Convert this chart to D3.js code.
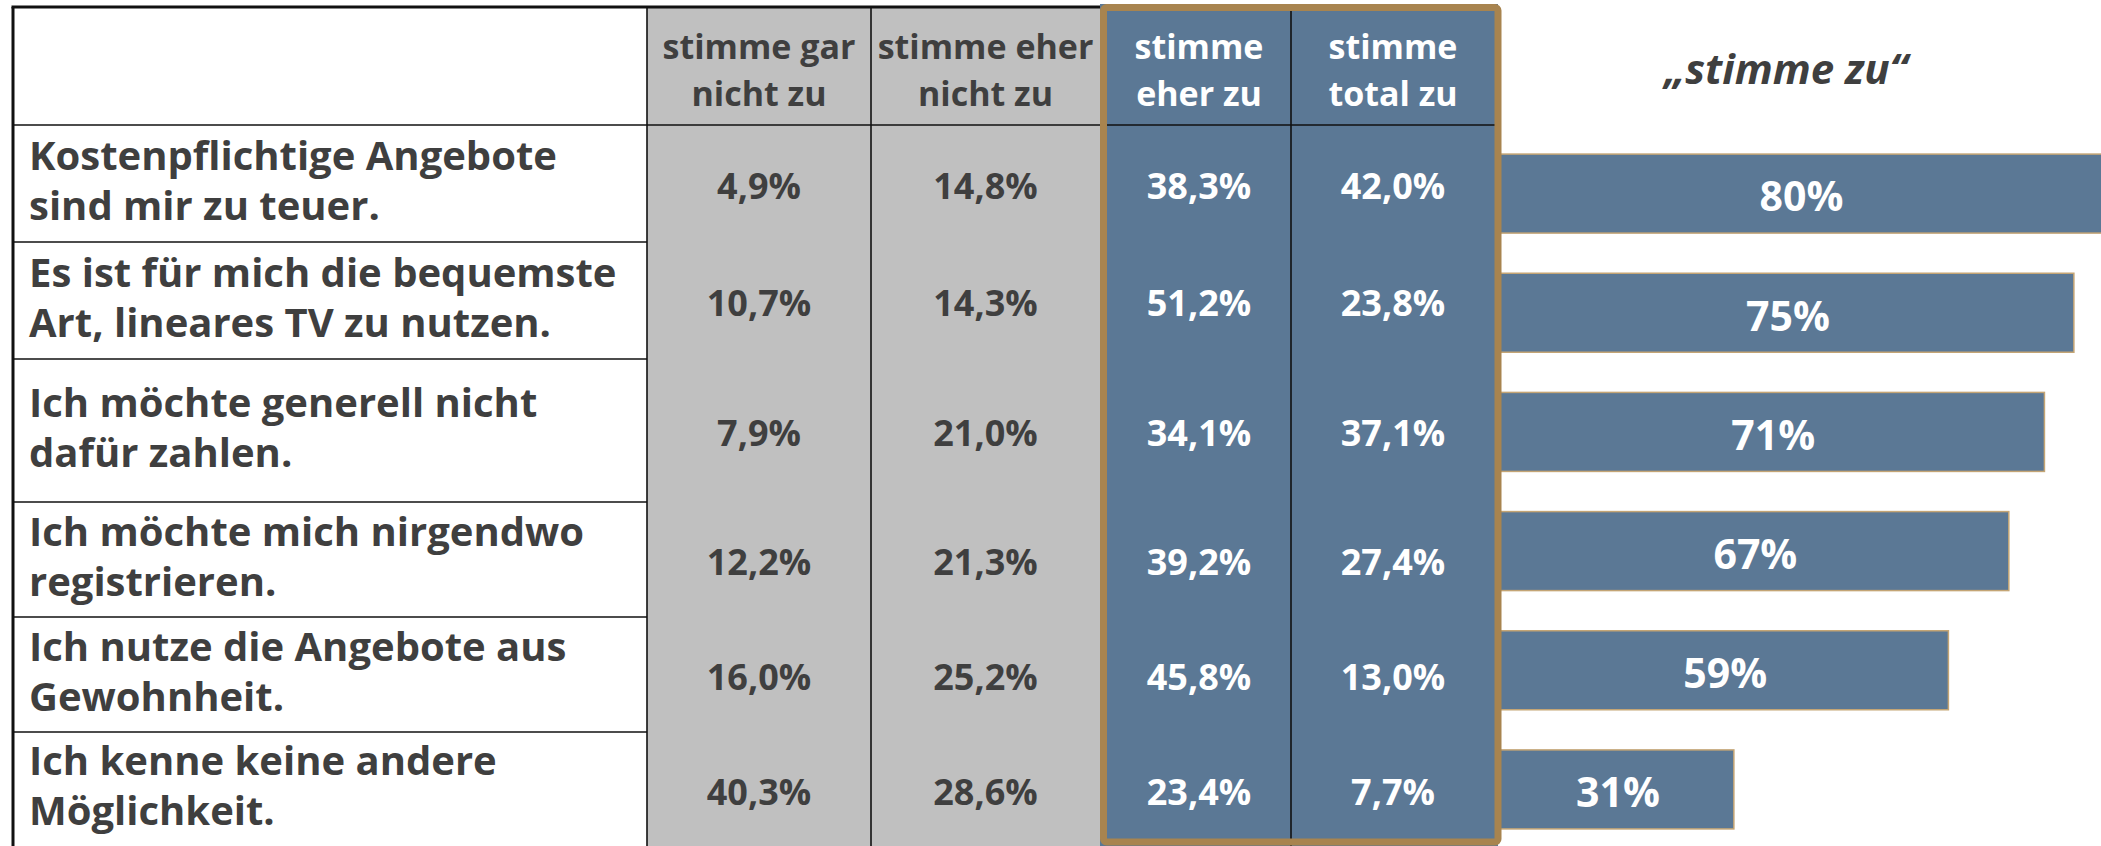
<!DOCTYPE html>
<html>
<head>
<meta charset="utf-8">
<script src="https://cdn.jsdelivr.net/npm/d3@7"></script>
<style>
  html, body { margin: 0; padding: 0; background: #ffffff; }
  svg { display: block; }
</style>
</head>
<body>
<svg id="chart" width="2101" height="846"></svg>
<script>
// ---------- DATA ----------
const categories = [
  ["Kostenpflichtige Angebote", "sind mir zu teuer."],
  ["Es ist für mich die bequemste", "Art, lineares TV zu nutzen."],
  ["Ich möchte generell nicht", "dafür zahlen."],
  ["Ich möchte mich nirgendwo", "registrieren."],
  ["Ich nutze die Angebote aus", "Gewohnheit."],
  ["Ich kenne keine andere", "Möglichkeit."]
];
const columnHeaders = [
  ["stimme gar", "nicht zu"],
  ["stimme eher", "nicht zu"],
  ["stimme", "eher zu"],
  ["stimme", "total zu"]
];
const stimmeGarNichtZu  = [4.9, 10.7, 7.9, 12.2, 16.0, 40.3];
const stimmeEherNichtZu = [14.8, 14.3, 21.0, 21.3, 25.2, 28.6];
const stimmeEherZu      = [38.3, 51.2, 34.1, 39.2, 45.8, 23.4];
const stimmeTotalZu     = [42.0, 23.8, 37.1, 27.4, 13.0, 7.7];
const barTitle = "„stimme zu“";

// ---------- LAYOUT ----------
const W = 2101, H = 846;
const rowEdges = [125, 242, 359, 502, 617, 732, 846];
const colEdges = [13, 647, 871, 1100, 1291, 1498];
const tableTop = 7;
const BLUE = "#5b7895", GRAY = "#c0c0c0", GOLD = "#a8844f", DARK = "#3f3f3f";
const FONT = "'Open Sans', 'Noto Sans', sans-serif";

const svg = d3.select("#chart");
const fmt = v => d3.format(".1f")(v).replace(".", ",") + "%";

const seriesCols = [stimmeGarNichtZu, stimmeEherNichtZu, stimmeEherZu, stimmeTotalZu];

// ---------- BARS (drawn first, the gold frame overlaps their start) ----------
const agree = stimmeEherZu.map((v, i) => v + stimmeTotalZu[i]);
const x = d3.scaleLinear().domain([0, 100]).range([1493, 1493 + 774.5]);
const y = d3.scaleBand().domain(d3.range(categories.length)).range([134, 849])
  .paddingInner(0.337).paddingOuter(0.1685);

const bars = svg.append("g");
bars.selectAll("rect").data(agree).join("rect")
  .attr("x", x(0)).attr("y", (d, i) => y(i))
  .attr("width", d => x(d) - x(0)).attr("height", y.bandwidth())
  .attr("fill", BLUE).attr("stroke", "#c4a575").attr("stroke-width", 1.5);
bars.selectAll("text").data(agree).join("text")
  .attr("x", d => (1502 + Math.min(x(d), W)) / 2)
  .attr("y", (d, i) => y(i) + y.bandwidth() / 2 + 3)
  .attr("dy", "0.36em")
  .attr("text-anchor", "middle")
  .attr("font-family", FONT).attr("font-weight", 700).attr("font-size", 41)
  .attr("fill", "#ffffff")
  .text(d => Math.round(d) + "%");

svg.append("text")
  .attr("x", 1786).attr("y", 84)
  .attr("text-anchor", "middle")
  .attr("font-family", FONT).attr("font-weight", 700).attr("font-style", "italic")
  .attr("font-size", 42).attr("fill", DARK)
  .text(barTitle);

// ---------- TABLE BACKGROUNDS ----------
const tbl = svg.append("g");
tbl.append("rect").attr("x", colEdges[0]).attr("y", tableTop)
  .attr("width", colEdges[1] - colEdges[0]).attr("height", H - tableTop).attr("fill", "#fff");
tbl.append("rect").attr("x", colEdges[1]).attr("y", tableTop)
  .attr("width", colEdges[3] - colEdges[1]).attr("height", H - tableTop).attr("fill", GRAY);
tbl.append("rect").attr("x", colEdges[3]).attr("y", 4)
  .attr("width", colEdges[5] - colEdges[3]).attr("height", H - 4).attr("fill", BLUE);

// grid lines
const gl = tbl.append("g").attr("stroke", "#111").attr("fill", "none");
gl.append("line").attr("x1", colEdges[0] - 1.5).attr("x2", colEdges[3])
  .attr("y1", tableTop).attr("y2", tableTop).attr("stroke-width", 3);
gl.append("line").attr("x1", colEdges[0]).attr("x2", colEdges[0])
  .attr("y1", tableTop).attr("y2", H).attr("stroke-width", 3);
gl.append("line").attr("x1", colEdges[0]).attr("x2", colEdges[5])
  .attr("y1", rowEdges[0]).attr("y2", rowEdges[0]).attr("stroke-width", 1.6);
gl.selectAll("line.row").data(rowEdges.slice(1, -1)).join("line").attr("class", "row")
  .attr("x1", colEdges[0]).attr("x2", colEdges[1])
  .attr("y1", d => d).attr("y2", d => d).attr("stroke-width", 1.6);
gl.selectAll("line.col").data([colEdges[1], colEdges[2], colEdges[4]]).join("line").attr("class", "col")
  .attr("x1", d => d).attr("x2", d => d)
  .attr("y1", tableTop).attr("y2", H).attr("stroke-width", 1.6);

// gold frame around "zu" columns
tbl.append("rect")
  .attr("x", 1103.5).attr("y", 7.5)
  .attr("width", 1498 - 1103.5).attr("height", 842 - 7.5)
  .attr("rx", 3)
  .attr("fill", "none").attr("stroke", GOLD).attr("stroke-width", 7);

// ---------- TEXT ----------
const colCenters = [759, 985.5, 1199, 1393];
columnHeaders.forEach((lines, c) => {
  lines.forEach((ln, k) => {
    svg.append("text")
      .attr("text-anchor", "middle")
      .attr("font-family", FONT).attr("font-weight", 700).attr("font-size", 34)
      .attr("fill", c < 2 ? DARK : "#ffffff")
      .attr("x", colCenters[c]).attr("y", 59 + k * 47).text(ln);
  });
});

categories.forEach((lines, r) => {
  const mid = (rowEdges[r] + rowEdges[r + 1]) / 2;
  const t = svg.append("text")
    .attr("font-family", FONT).attr("font-weight", 700).attr("font-size", 40)
    .attr("fill", DARK);
  lines.forEach((ln, k) => {
    t.append("tspan").attr("x", 29).attr("y", mid - 28 + k * 50).attr("dy", "0.35em").text(ln);
  });
});

seriesCols.forEach((vals, c) => {
  svg.append("g").selectAll("text").data(vals).join("text")
    .attr("x", colCenters[c])
    .attr("y", (d, r) => (rowEdges[r] + rowEdges[r + 1]) / 2 + 3)
    .attr("dy", "0.36em")
    .attr("text-anchor", "middle")
    .attr("font-family", FONT).attr("font-weight", 700).attr("font-size", 36)
    .attr("fill", c < 2 ? DARK : "#ffffff")
    .text(fmt);
});
</script>
</body>
</html>
